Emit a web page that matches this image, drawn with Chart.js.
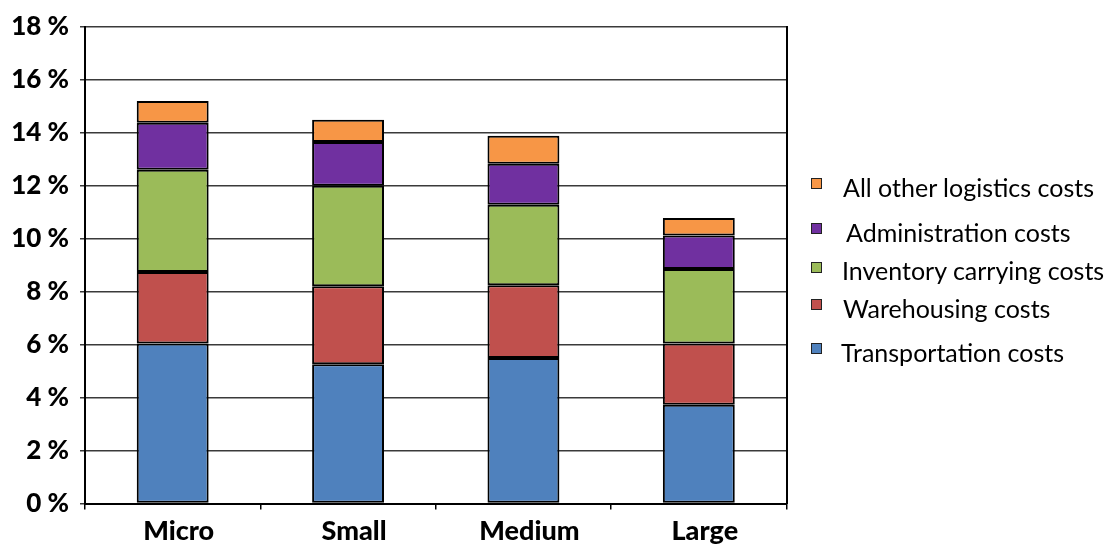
<!DOCTYPE html>
<html>
<head>
<meta charset="utf-8">
<script src="https://cdn.jsdelivr.net/npm/chart.js@4.4.1/dist/chart.umd.min.js"></script>
<style>
  html, body { margin: 0; padding: 0; background: #fff; }
  #wrap { position: relative; width: 1118px; height: 546px; }
  #c { position: absolute; left: 0; top: 0; }
  .lg { position: absolute; font-family: Lato, "Open Sans", sans-serif; font-size: 25px; color: #000; white-space: nowrap; }
  .sw { position: absolute; width: 9px; height: 9px; border: 1px solid #222; }
</style>
</head>
<body>
<div id="wrap">
  <canvas id="c" width="1118" height="546"></canvas>
</div>
<script>
const categories = ["Micro", "Small", "Medium", "Large"];
const transportation = [6.04, 5.26, 5.49, 3.73];
const warehousing    = [2.70, 2.94, 2.75, 2.31];
const inventory      = [3.86, 3.79, 3.04, 2.81];
const administration = [1.77, 1.65, 1.54, 1.27];
const otherCosts     = [0.82, 0.84, 1.06, 0.66];
const yTicks = [0, 2, 4, 6, 8, 10, 12, 14, 16, 18];

const seriesNames = ["Transportation costs", "Warehousing costs", "Inventory carrying costs", "Administration costs", "All other logistics costs"];
const seriesData = [transportation, warehousing, inventory, administration, otherCosts];
const seriesColors = ["#4F81BD", "#C0504D", "#9BBB59", "#7030A0", "#F79646"];

const datasets = seriesNames.map((n, i) => ({
  label: n,
  data: seriesData[i],
  backgroundColor: seriesColors[i],
  borderColor: "#000",
  borderWidth: 2,
  borderSkipped: false,
  categoryPercentage: 1,
  barPercentage: 0.41
}));

new Chart(document.getElementById("c"), {
  type: "bar",
  data: { labels: categories, datasets: datasets },
  options: {
    responsive: false,
    animation: false,
    devicePixelRatio: 1,
    layout: { padding: { left: 0, right: 331.5, top: 24.5, bottom: 0 } },
    plugins: { legend: { display: false }, tooltip: { enabled: false } },
    scales: {
      x: {
        stacked: true,
        grid: { display: true, drawOnChartArea: false, drawTicks: true, tickLength: 6, color: "#000", lineWidth: 1.5, offset: true },
        border: { display: true, color: "#000", width: 2 },
        ticks: { color: "#000", font: { family: "Lato", weight: "900", size: 27 }, padding: 6, labelOffset: 6 },
        afterFit: (s) => { s.height = 42.5; }
      },
      y: {
        stacked: true,
        min: 0, max: 18,
        afterBuildTicks: (s) => { s.ticks = yTicks.map(v => ({ value: v })); },
        grid: { color: "#3a3a3a", lineWidth: 1.5, tickLength: 5, tickColor: "#3a3a3a" },
        border: { display: true, color: "#000", width: 2 },
        ticks: { color: "#000", font: { family: "Lato", weight: "900", size: 26 }, padding: 11, callback: (v) => v + " %" },
        afterFit: (s) => { s.width = 85; }
      },
      y2: {
        position: "right",
        min: 0, max: 18,
        grid: { drawOnChartArea: false, drawTicks: false },
        border: { display: true, color: "#000", width: 2 },
        ticks: { display: false },
        afterFit: (s) => { s.width = 0; }
      }
    }
  }
});

// Legend (reverse order, as in the reference)
const wrap = document.getElementById("wrap");
const legendY = [183.5, 228.5, 267, 304.5, 348.5];
const legendTextX = [843, 846, 842, 843, 841];
for (let k = 0; k < seriesNames.length; k++) {
  const i = seriesNames.length - 1 - k;
  const sw = document.createElement("div");
  sw.className = "sw";
  sw.style.left = "811px";
  sw.style.top = (legendY[k] - 5.5) + "px";
  sw.style.background = seriesColors[i];
  wrap.appendChild(sw);
  const t = document.createElement("div");
  t.className = "lg";
  t.textContent = seriesNames[i];
  t.style.left = legendTextX[k] + "px";
  t.style.top = (legendY[k] - 12) + "px";
  t.style.lineHeight = "30px";
  wrap.appendChild(t);
}
</script>
</body>
</html>
